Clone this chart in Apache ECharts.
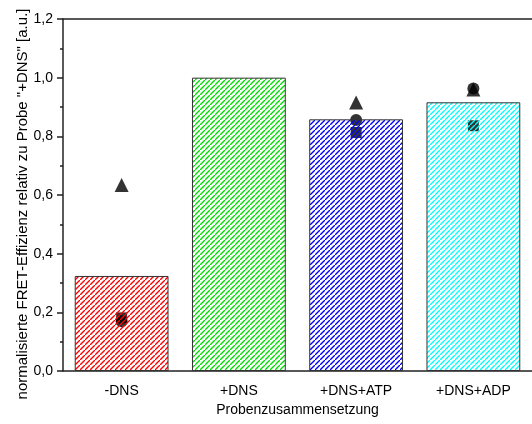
<!DOCTYPE html>
<html>
<head>
<meta charset="utf-8">
<script src="https://cdn.jsdelivr.net/npm/echarts@6/dist/echarts.min.js"></script>
<style>
html, body { margin: 0; padding: 0; background: #fff; }
#chart { width: 532px; height: 424px; }
</style>
</head>
<body>
<div id="chart"></div>
<script>
// Probenzusammensetzung
var categories = ['-DNS', '+DNS', '+DNS+ATP', '+DNS+ADP'];
// Balken (Mittelwert)
var barValues = [0.324, 1.0, 0.858, 0.916];
var barColors = ['#ff0000', '#00dd00', '#0000ff', '#00ffff'];
// Einzelmessungen
var squareValues = [0.181, '-', 0.813, 0.836];
var circleValues = [0.170, '-', 0.856, 0.963];
var triangleValues = [0.634, '-', 0.915, 0.960];

var FONT = 'Liberation Sans, Arial, sans-serif';

// schraffur als canvas-muster
function hatch(color) {
	var n = 5;
	var c = document.createElement('canvas');
	c.width = n;
	c.height = n;
	var ctx = c.getContext('2d');
	ctx.strokeStyle = color;
	ctx.lineWidth = 1.4;
	ctx.beginPath();
	ctx.moveTo(-1, n + 1); ctx.lineTo(n + 1, -1);
	ctx.moveTo(-n - 1, 1); ctx.lineTo(1, -n - 1);
	ctx.moveTo(n - 1, 2 * n + 1); ctx.lineTo(2 * n + 1, n - 1);
	ctx.stroke();
	return c;
}

var barData = [];
for (var i = 0; i < barValues.length; i++) {
	barData.push({
		value: barValues[i],
		itemStyle: {
			color: { image: hatch(barColors[i]), repeat: 'repeat' },
			borderColor: '#333',
			borderWidth: 1
		}
	});
}

var myChart = echarts.init(document.getElementById('chart'));

var option = {
	animation: false,
	backgroundColor: '#fff',
	grid: { left: 63, top: 19, right: -11, bottom: 53 },
	xAxis: [
		{
			type: 'category',
			data: categories,
			name: 'Probenzusammensetzung',
			nameLocation: 'middle',
			nameGap: 32,
			nameMoveOverlap: false,
			nameTextStyle: { fontFamily: FONT, fontSize: 14, color: '#000' },
			axisLine: { lineStyle: { color: '#222', width: 1.5 } },
			axisTick: { alignWithLabel: true, length: 5, lineStyle: { color: '#222', width: 1.5 } },
			axisLabel: { fontFamily: FONT, fontSize: 14, color: '#000', margin: 13 },
			splitLine: { show: false }
		},
		{
			type: 'category',
			data: categories,
			position: 'bottom',
			axisLine: { show: false },
			axisTick: { length: 3, lineStyle: { color: '#222', width: 1.5 } },
			axisLabel: { show: false },
			splitLine: { show: false }
		},
		{
			type: 'category',
			data: categories,
			position: 'top',
			axisLine: { lineStyle: { color: '#222', width: 1.5 } },
			axisTick: { show: false },
			axisLabel: { show: false },
			splitLine: { show: false }
		}
	],
	yAxis: {
		type: 'value',
		min: 0,
		max: 1.2,
		interval: 0.2,
		name: 'normalisierte FRET-Effizienz relativ zu Probe "+DNS" [a.u.]',
		nameLocation: 'middle',
		nameGap: 33,
		nameMoveOverlap: false,
		nameTextStyle: { fontFamily: FONT, fontSize: 15, color: '#000', padding: [0, 18, 0, 0] },
		axisLine: { show: true, lineStyle: { color: '#222', width: 1.5 } },
		axisTick: { show: true, length: 6, lineStyle: { color: '#222', width: 1.5 } },
		minorTick: { show: true, splitNumber: 2, length: 3, lineStyle: { color: '#222', width: 1.5 } },
		axisLabel: {
			fontFamily: FONT, fontSize: 14, color: '#000', margin: 10,
			formatter: function (v) { return v.toFixed(1).replace('.', ','); }
		},
		splitLine: { show: false }
	},
	series: [
		{
			type: 'scatter',
			name: 'Quadrat',
			symbol: 'rect',
			symbolSize: 11,
			data: squareValues,
			itemStyle: { color: '#000' },
			z: 1
		},
		{
			type: 'scatter',
			name: 'Kreis',
			symbol: 'circle',
			symbolSize: 12,
			data: circleValues,
			itemStyle: { color: '#000' },
			z: 1
		},
		{
			type: 'scatter',
			name: 'Dreieck',
			symbol: 'triangle',
			symbolSize: 14,
			data: triangleValues,
			itemStyle: { color: '#000' },
			z: 1
		},
		{
			type: 'bar',
			barCategoryGap: '20%',
			data: barData,
			z: 2
		}
	]
};

myChart.setOption(option);
</script>
</body>
</html>
